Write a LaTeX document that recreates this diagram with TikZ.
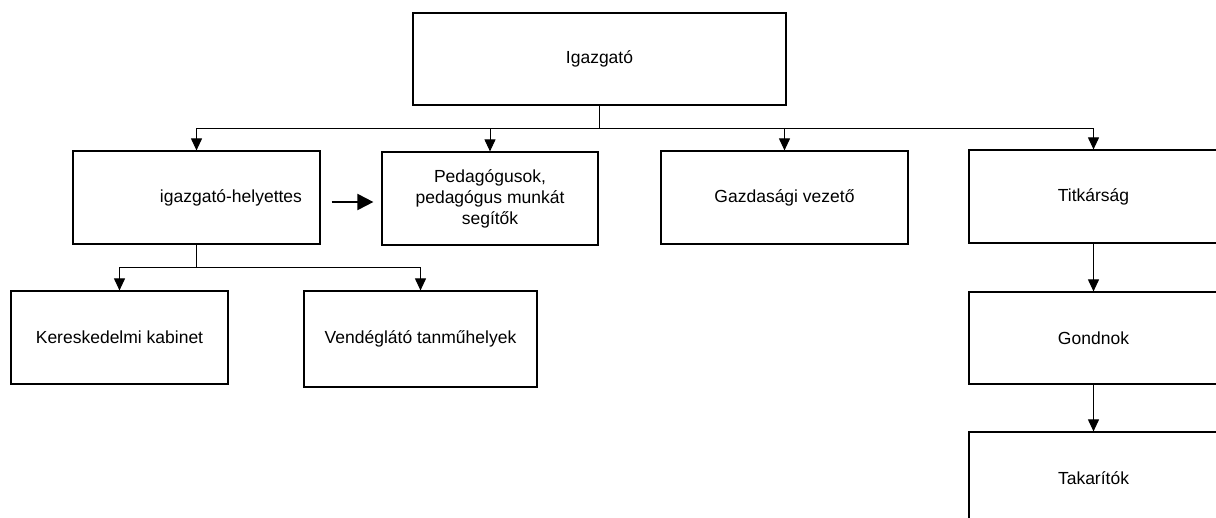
\documentclass[tikz,border=0pt]{standalone}
\usepackage{fontspec}
\setmainfont{Liberation Sans}
\usetikzlibrary{arrows.meta,calc}
\begin{document}
\begin{tikzpicture}[x=1pt,y=-1pt,
  font=\fontsize{17.5}{21}\selectfont,
  orgbox/.style={draw=black,line width=1.2pt,rectangle,inner sep=0pt,align=center},
  conn/.style={draw=black,line width=1pt},
  arr/.style={draw=black,line width=1pt,-{Triangle[length=12pt,width=11pt]}},
  bigarr/.style={draw=black,line width=2pt,-{Triangle[length=16pt,width=16pt]}}]
\useasboundingbox (0,0) rectangle (1216,517);
\clip (0,0) rectangle (1216,517);
\fill[white] (0,0) rectangle (1216,517);
% boxes
\node[orgbox,minimum width=373pt,minimum height=92pt] (ig) at (599.5,59) {Igazgató};
\node[orgbox,minimum width=247pt,minimum height=93pt,text width=211pt,inner xsep=18pt,align=right] (ih) at (196.5,197.5) {igazgató-helyettes};
\node[orgbox,minimum width=216pt,minimum height=93pt] (ped) at (490,198.5) {Pedagógusok,\\pedagógus munkát\\segítők};
\node[orgbox,minimum width=247pt,minimum height=93pt] (gaz) at (784.5,197.5) {Gazdasági vezető};
\node[orgbox,minimum width=249pt,minimum height=93pt] (tit) at (1093.5,196.5) {Titkárság};
\node[orgbox,minimum width=217pt,minimum height=93pt] (ker) at (119.5,337.5) {Kereskedelmi kabinet};
\node[orgbox,minimum width=233pt,minimum height=96pt] (ven) at (420.5,339) {Vendéglátó tanműhelyek};
\node[orgbox,minimum width=249pt,minimum height=92pt] (gon) at (1093.5,338) {Gondnok};
\node[orgbox,minimum width=249pt,minimum height=93pt] (tak) at (1093.5,478.5) {Takarítók};
% top bus
\coordinate (busL) at (ih.north |- 0,128);
\coordinate (busR) at (tit.north |- 0,128);
\draw[conn] (ig.south) -- (ig.south |- busL);
\draw[conn] (busL) -- (busR);
\draw[arr] (busL) -- (ih.north);
\draw[arr] (ped.north |- busL) -- (ped.north);
\draw[arr] (gaz.north |- busL) -- (gaz.north);
\draw[arr] (busR) -- (tit.north);
% sub bus
\coordinate (subL) at (ker.north |- 0,267);
\coordinate (subR) at (ven.north |- 0,267);
\draw[conn] (ih.south) -- (ih.south |- subL);
\draw[conn] (subL) -- (subR);
\draw[arr] (subL) -- (ker.north);
\draw[arr] (subR) -- (ven.north);
% right column
\draw[arr] (tit.south) -- (gon.north);
\draw[arr] (gon.south) -- (tak.north);
% side arrow
\draw[bigarr,shorten <=11pt,shorten >=8pt] ($(ih.east)+(0,4.5)$) -- ($(ped.west)+(0,3.5)$);
\end{tikzpicture}
\end{document}
